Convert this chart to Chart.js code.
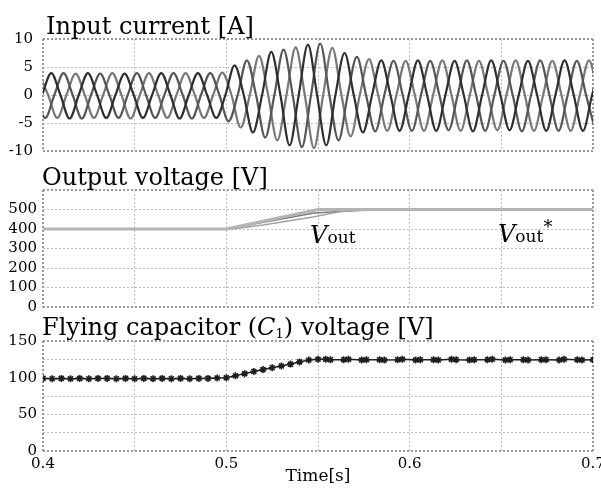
<!DOCTYPE html>
<html>
<head>
<meta charset="utf-8">
<script src="https://cdn.jsdelivr.net/npm/chart.js@4"></script>
<style>
  html, body { margin: 0; padding: 0; background: #fff; overflow: hidden; width: 601px; height: 489px; }
  canvas { position: absolute; left: 0; }
</style>
</head>
<body>
<canvas id="currentChart" width="620" height="170" style="top:0px"></canvas>
<canvas id="voltageChart" width="620" height="165" style="top:160px"></canvas>
<canvas id="capChart" width="620" height="179" style="top:310px"></canvas>
<script>
// ---- data ----
// input current: peak value of each half cycle (A), one list per phase
const halfCycle = 0.01;
const phaseAStart = 0.3945;
const phaseBStart = 0.3912;
const phaseCStart = 0.3978;
const phaseAPeaks = [-4.1, 3.9, -4.2, 3.9, -4.1, 3.8, -4.1, 3.9, -4.2, 3.9, -4.1,
  5.3, -6.7, 7.7, -9.0, 9.0, -9.0, 7.5, -6.7, 6.2, -6.4,
  6.2, -6.4, 6.1, -6.5, 6.2, -6.3, 6.1, -6.4, 6.2, -6.4, 6.1];
const phaseBPeaks = [3.9, -4.1, 3.9, -4.2, 3.8, -4.1, 3.9, -4.1, 3.9, -4.2, 3.9,
  -4.7, 6.2, -7.6, 8.1, -9.3, 9.2, -8.1, 6.8, -6.5, 6.1,
  -6.4, 6.1, -6.3, 6.2, -6.4, 6.1, -6.5, 6.2, -6.4, 6.1, -6.3];
const phaseCPeaks = [3.9, -4.1, 3.8, -4.1, 3.9, -4.2, 3.9, -4.1, 3.9, -4.1, 4.0,
  -5.8, 7.0, -8.1, 8.5, -9.5, 8.4, -7.4, 6.4, -6.4, 6.1,
  -6.4, 6.2, -6.4, 6.1, -6.3, 6.2, -6.4, 6.1, -6.4, 6.2, -6.4];

// output voltage (V)
const vRefTimes = [0.4, 0.5, 0.55, 0.7];
const vRefValues = [400, 400, 500, 500];
const vOut1Times = [0.4, 0.5, 0.521, 0.548, 0.576, 0.6];
const vOut1Values = [400, 400, 436, 482, 497, 500];
const vOut2Times = [0.4, 0.503, 0.521, 0.548, 0.563, 0.58, 0.6];
const vOut2Values = [400, 400, 422, 463, 491, 498, 500];

// flying capacitor voltage (V)
const capEarlyStart = 0.4;
const capEarlyStep = 0.005;
const capEarlyValues = [99, 98.5, 99, 98.5, 99, 98.5, 99, 99, 98.5, 99,
  98.5, 99, 98.5, 99, 98.5, 99, 98.5, 99, 99, 99.5,
  100, 102.5, 105.5, 108.5, 111, 113.5, 116, 118.5, 121.5, 124, 125];
const capLateTimes = [0.5542, 0.5568, 0.5640, 0.5666, 0.5738, 0.5764, 0.5836, 0.5862,
  0.5934, 0.5960, 0.6032, 0.6058, 0.6130, 0.6156, 0.6228, 0.6254, 0.6326, 0.6352,
  0.6424, 0.6450, 0.6522, 0.6548, 0.6620, 0.6646, 0.6718, 0.6744, 0.6816, 0.6842,
  0.6914, 0.6940, 0.7];
const capLateValues = [125, 124.5, 124.5, 125, 124, 124.5, 124.5, 124, 124.5, 125,
  124, 124.5, 124.5, 124, 125, 124.5, 124, 124.5, 124.5, 125,
  124, 124.5, 124.5, 124, 124.5, 124.5, 124, 125, 124.5, 124, 124.5];

// ---- helpers ----
function waveform(start, peaks) {
  const pts = [];
  peaks.forEach((p, i) => {
    const t = start + i * halfCycle;
    pts.push({x: t, y: p});
    if (i < peaks.length - 1) pts.push({x: t + halfCycle / 2, y: 0});
  });
  return pts;
}
const zip = (xs, ys) => xs.map((x, i) => ({x: x, y: ys[i]}));

Chart.defaults.font.family = '"DejaVu Serif", serif';
Chart.defaults.color = '#000';

const isEdge = ctx => ctx.tick && (Math.abs(ctx.tick.value - ctx.scale.min) < 1e-9 || Math.abs(ctx.tick.value - ctx.scale.max) < 1e-9);
const gridOpts = {
  color: ctx => isEdge(ctx) ? '#9a9a9a' : '#bcbcbc',
  lineWidth: ctx => isEdge(ctx) ? 2 : 1,
  drawTicks: false,
  borderDash: [2, 2]
};
const borderOpts = {display: false, dash: [2, 2]};

function xScale(showLabels, height) {
  return {
    type: 'linear', min: 0.4, max: 0.7,
    grid: gridOpts, border: borderOpts,
    ticks: {
      display: showLabels, stepSize: 0.05, padding: 4, maxRotation: 0, autoSkip: false,
      font: {size: 15}, color: '#000',
      callback: v => Math.abs(v * 10 - Math.round(v * 10)) < 1e-6 ? v.toFixed(1) : ''
    },
    title: {display: showLabels, text: 'Time[s]', font: {size: 17}, color: '#000', padding: 0},
    afterFit: s => { s.height = height; }
  };
}
function yScale(min, max, step, labelEvery, pad) {
  return {
    min: min, max: max,
    grid: gridOpts, border: borderOpts,
    ticks: {
      stepSize: step, padding: pad, font: {size: 15}, color: '#000', autoSkip: false,
      callback: v => (v % labelEvery === 0 && v !== 600) ? String(v) : ''
    },
    afterFit: s => { s.width = 43; }
  };
}

// text runs (titles, labels with italics / subscripts)
const panelText = {
  id: 'panelText',
  afterDraw(chart, args, opts) {
    const ctx = chart.ctx;
    ctx.save();
    ctx.fillStyle = '#000';
    ctx.textBaseline = 'alphabetic';
    ctx.textAlign = 'left';
    (opts.items || []).forEach(item => {
      let x, y;
      if (item.title) {
        x = chart.chartArea.left + item.dx;
        y = chart.chartArea.top - item.dy;
      } else {
        x = chart.scales.x.getPixelForValue(item.x);
        y = chart.scales.y.getPixelForValue(item.y);
      }
      item.runs.forEach(r => {
        ctx.font = r.font;
        ctx.fillText(r.text, x, y - (r.rise || 0));
        x += ctx.measureText(r.text).width;
      });
    });
    ctx.restore();
  }
};

const serif = size => size + 'px "DejaVu Serif"';
const serifItalic = size => 'italic ' + size + 'px "DejaVu Serif"';

function baseOptions(padding, xs, ys, items) {
  return {
    responsive: false,
    animation: false,
    layout: {padding: padding},
    scales: {x: xs, y: ys},
    plugins: {legend: {display: false}, tooltip: {enabled: false}, panelText: {items: items}},
    elements: {point: {radius: 0}, line: {borderJoinStyle: 'round'}}
  };
}

// ---- panel 1: input current ----
const phaseLine = (data, color) => ({
  data: data, borderColor: color, borderWidth: 2.2, pointRadius: 0,
  cubicInterpolationMode: 'monotone', fill: false
});
new Chart(document.getElementById('currentChart'), {
  type: 'line',
  data: {datasets: [
    phaseLine(waveform(phaseAStart, phaseAPeaks), '#2e2e2e'),
    phaseLine(waveform(phaseBStart, phaseBPeaks), '#555555'),
    phaseLine(waveform(phaseCStart, phaseCPeaks), '#777777')
  ]},
  options: baseOptions({top: 39, bottom: 14, left: 0, right: 27},
    xScale(false, 0), yScale(-10, 10, 5, 5, 10),
    [{title: true, dx: 3, dy: 5, runs: [{text: 'Input current [A]', font: serif(24)}]}]),
  plugins: [panelText]
});

// ---- panel 2: output voltage ----
new Chart(document.getElementById('voltageChart'), {
  type: 'line',
  data: {datasets: [
    {data: zip(vRefTimes, vRefValues), borderColor: '#b4b4b4', borderWidth: 3, pointRadius: 0},
    {data: zip(vOut2Times, vOut2Values), borderColor: '#a2a2a2', borderWidth: 1.5, pointRadius: 0},
    {data: zip(vOut1Times, vOut1Values), borderColor: '#7a7a7a', borderWidth: 1.5, pointRadius: 0}
  ]},
  options: baseOptions({top: 30, bottom: 18, left: 0, right: 27},
    xScale(false, 0), yScale(0, 600, 100, 100, 6),
    [
      {title: true, dx: -1, dy: 5, runs: [{text: 'Output voltage [V]', font: serif(24)}]},
      {x: 0.5457, y: 330, runs: [{text: 'V', font: serifItalic(24)}, {text: 'out', font: serif(17)}]},
      {x: 0.6482, y: 335, runs: [{text: 'V', font: serifItalic(24)}, {text: 'out', font: serif(17)}, {text: '*', font: serif(18), rise: 9}]}
    ]),
  plugins: [panelText]
});

// ---- panel 3: flying capacitor voltage ----
const capPoints = capEarlyValues.map((v, i) => ({x: capEarlyStart + i * capEarlyStep, y: v}))
  .concat(zip(capLateTimes, capLateValues));
new Chart(document.getElementById('capChart'), {
  type: 'line',
  data: {datasets: [
    {data: capPoints, borderColor: '#1e1e1e', borderWidth: 1.5, pointStyle: 'star',
     pointRadius: 3.5, pointBorderColor: '#1e1e1e', pointBorderWidth: 1.6, pointBackgroundColor: '#1e1e1e'}
  ]},
  options: baseOptions({top: 31, bottom: 2, left: 0, right: 27},
    xScale(true, 36), yScale(0, 150, 25, 50, 6),
    [{title: true, dx: -1, dy: 6, runs: [
      {text: 'Flying capacitor (', font: serif(24)},
      {text: 'C', font: serifItalic(24)},
      {text: '1', font: serif(13), rise: -3},
      {text: ') voltage [V]', font: serif(24)}
    ]}]),
  plugins: [panelText]
});
</script>
</body>
</html>
